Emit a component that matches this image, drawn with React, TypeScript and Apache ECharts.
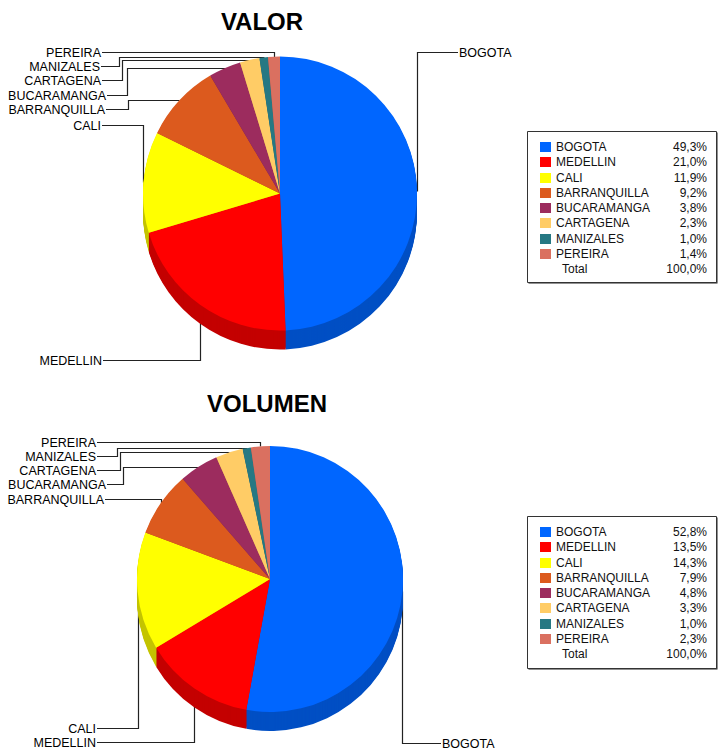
import React, { useEffect, useRef } from "react";
import * as echarts from "echarts";

// ---- data ----
const categories = ["BOGOTA", "MEDELLIN", "CALI", "BARRANQUILLA", "BUCARAMANGA", "CARTAGENA", "MANIZALES", "PEREIRA"];
const valorPct = [49.3, 21.0, 11.9, 9.2, 3.8, 2.3, 1.0, 1.4];
const volumenPct = [52.8, 13.5, 14.3, 7.9, 4.8, 3.3, 1.0, 2.3];
const chartTitles = ["VALOR", "VOLUMEN"];
const totalName = "Total";
const totalValue = "100,0%";
const sliceColors = ["#0066FF", "#FF0000", "#FFFF00", "#DC5A1E", "#9C2C5E", "#FFCC66", "#267883", "#DA7060"];

// ---- layout ----
const FONT = "'Liberation Sans', Arial, sans-serif";
const DEPTH = 19;

type LabelPos = { lx: number; y: number; side: "left" | "right"; col?: number };

const layouts = [
  {
    cx: 280, cy: 193.5, r: 137, titleX: 262, titleY: 21,
    box: { x: 527, y: 131, w: 189, h: 151 },
    labels: [
      { lx: 458, y: 52.5, side: "right" },
      { lx: 103, y: 360.5, side: "left" },
      { lx: 102, y: 125.5, side: "left" },
      { lx: 106, y: 109.5, side: "left", col: 128.5 },
      { lx: 107, y: 95.5, side: "left", col: 127.5 },
      { lx: 102, y: 80.5, side: "left", col: 122.5 },
      { lx: 101, y: 66.5, side: "left", col: 119.5 },
      { lx: 102, y: 52.5, side: "left" },
    ] as LabelPos[],
  },
  {
    cx: 270, cy: 579, r: 133, titleX: 267, titleY: 403.5,
    box: { x: 527, y: 516, w: 189, h: 152 },
    labels: [
      { lx: 441, y: 743.5, side: "right" },
      { lx: 97, y: 742.5, side: "left" },
      { lx: 97, y: 728.5, side: "left" },
      { lx: 105, y: 499.5, side: "left" },
      { lx: 107, y: 484.5, side: "left", col: 123.5 },
      { lx: 97, y: 470.5, side: "left", col: 120.5 },
      { lx: 97, y: 456.5, side: "left", col: 117.5 },
      { lx: 97, y: 442.5, side: "left" },
    ] as LabelPos[],
  },
];

function darken(hex: string, f: number) {
  const n = parseInt(hex.slice(1), 16);
  const r = Math.round(((n >> 16) & 255) * f);
  const g = Math.round(((n >> 8) & 255) * f);
  const b = Math.round((n & 255) * f);
  return `rgb(${r},${g},${b})`;
}

function fmtPct(v: number) {
  return v.toFixed(1).replace(".", ",") + "%";
}

function anchorsFor(values: number[], cx: number, cy: number, r: number) {
  const sum = values.reduce((a, b) => a + b, 0);
  let acc = 0;
  return values.map((v) => {
    const mid = ((acc + v / 2) / sum) * Math.PI * 2;
    acc += v;
    return [Math.round(cx + r * Math.sin(mid)) + 0.5, Math.round(cy - r * Math.cos(mid)) + 0.5];
  });
}

export default function App() {
  const ref = useRef<HTMLDivElement>(null);
  useEffect(() => {
    if (!ref.current) return;
    const chart = echarts.init(ref.current, undefined, { renderer: "svg" });
    const datasets = [valorPct, volumenPct];
    const series: any[] = [];
    const graphic: any[] = [];

    datasets.forEach((values, ci) => {
      const L = layouts[ci];
      const data = categories.map((name, i) => ({ name, value: values[i] }));
      // depth layers (deepest first)
      for (let d = DEPTH; d >= 1; d--) {
        series.push({
          type: "pie",
          silent: true,
          center: [L.cx, L.cy + d],
          radius: L.r,
          startAngle: 90,
          clockwise: true,
          label: { show: false },
          labelLine: { show: false },
          emphasis: { disabled: true },
          itemStyle: { borderWidth: 0 },
          data: data.map((dd, i) => ({ ...dd, itemStyle: { color: darken(sliceColors[i], 0.77) } })),
        });
      }
      const anchors = anchorsFor(values, L.cx, L.cy, L.r);
      series.push({
        type: "pie",
        silent: true,
        center: [L.cx, L.cy],
        radius: L.r,
        startAngle: 90,
        clockwise: true,
        avoidLabelOverlap: false,
        emphasis: { disabled: true },
        itemStyle: { borderWidth: 0 },
        label: {
          show: true,
          position: "outside",
          formatter: "{b}",
          color: "#000",
          fontSize: 12.5,
          fontFamily: FONT,
        },
        labelLine: { show: true, smooth: false, length: 5, length2: 5, lineStyle: { color: "#222", width: 1.2 } },
        labelLayout: (p: any) => {
          const i = p.dataIndex;
          const lp = L.labels[i];
          const [ax, ay] = anchors[i];
          const pts =
            lp.col != null
              ? [[ax, ay], [lp.col, ay], [lp.col, lp.y], [lp.lx, lp.y]]
              : [[ax, ay], [ax, lp.y], [lp.lx, lp.y]];
          return {
            x: lp.side === "left" ? lp.lx - 1 : lp.lx + 1,
            y: lp.y,
            align: lp.side === "left" ? "right" : "left",
            verticalAlign: "middle",
            labelLinePoints: pts,
          };
        },
        data: data.map((dd, i) => ({ ...dd, itemStyle: { color: sliceColors[i] } })),
      });

      // title
      graphic.push({
        type: "text",
        x: L.titleX,
        y: L.titleY,
        style: {
          text: chartTitles[ci],
          fill: "#000",
          font: `bold 24px ${FONT}`,
          textAlign: "center",
          textVerticalAlign: "middle",
        },
      });

      // legend table
      const b = L.box;
      graphic.push({
        type: "rect",
        shape: { x: b.x + 1.5, y: b.y + 1.5, width: b.w, height: b.h },
        style: { fill: "#222" },
      });
      graphic.push({
        type: "rect",
        shape: { x: b.x + 0.5, y: b.y + 0.5, width: b.w, height: b.h },
        style: { fill: "#fff", stroke: "#333", lineWidth: 1 },
      });
      const rowH = 15.25;
      categories.forEach((name, i) => {
        const yc = b.y + 16 + i * rowH;
        graphic.push({
          type: "rect",
          shape: { x: 540, y: Math.round(yc - 5), width: 11, height: 10 },
          style: { fill: sliceColors[i] },
        });
        graphic.push({
          type: "text",
          x: 556,
          y: yc,
          style: { text: name, fill: "#111", font: `12px ${FONT}`, textAlign: "left", textVerticalAlign: "middle" },
        });
        graphic.push({
          type: "text",
          x: 707,
          y: yc,
          style: { text: fmtPct(values[i]), fill: "#111", font: `12px ${FONT}`, textAlign: "right", textVerticalAlign: "middle" },
        });
      });
      const yt = b.y + 16 + categories.length * rowH;
      graphic.push({
        type: "text",
        x: 562,
        y: yt,
        style: { text: totalName, fill: "#111", font: `12px ${FONT}`, textAlign: "left", textVerticalAlign: "middle" },
      });
      graphic.push({
        type: "text",
        x: 707,
        y: yt,
        style: { text: totalValue, fill: "#111", font: `12px ${FONT}`, textAlign: "right", textVerticalAlign: "middle" },
      });
    });

    chart.setOption({
      animation: false,
      backgroundColor: "#fff",
      series,
      graphic,
    });
    return () => chart.dispose();
  }, []);

  return <div ref={ref} style={{ position: "absolute", left: 0, top: 0, width: 718, height: 749 }} />;
}
